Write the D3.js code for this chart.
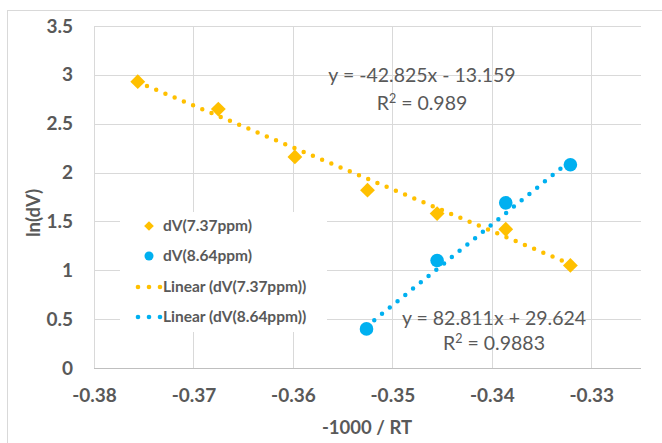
<!DOCTYPE html>
<html><head><meta charset="utf-8">
<script src="https://cdn.jsdelivr.net/npm/d3@7"></script>
<style>
html,body{margin:0;padding:0;background:#fff;}
svg{display:block;}
text{font-family:"Lato","Open Sans",sans-serif;}
</style></head>
<body>
<svg id="chart" width="662" height="443"></svg>
<script>
// ---- data ----
const xTicks = [-0.38, -0.37, -0.36, -0.35, -0.34, -0.33];
const yTicks = [0, 0.5, 1, 1.5, 2, 2.5, 3, 3.5];
const yTickLabels = ["0", "0.5", "1", "1.5", "2", "2.5", "3", "3.5"];
const xTickLabels = ["-0.38", "-0.37", "-0.36", "-0.35", "-0.34", "-0.33"];
const orangeX = [-0.3756, -0.3675, -0.3598, -0.3525, -0.3455, -0.3386, -0.3321];
const orangeY = [2.93, 2.65, 2.16, 1.82, 1.58, 1.42, 1.05];
const blueX = [-0.3526, -0.3455, -0.3386, -0.3321];
const blueY = [0.40, 1.10, 1.69, 2.08];
const seriesNames = ["dV(7.37ppm)", "dV(8.64ppm)", "Linear (dV(7.37ppm))", "Linear (dV(8.64ppm))"];
const fitSlope = [-42.825, 82.811];
const fitIntercept = [-13.159, 29.624];
const eqText = ["y = -42.825x - 13.159", "y = 82.811x + 29.624"];
const r2Text = ["0.989", "0.9883"];
const xTitle = "-1000 / RT";
const yTitle = "ln(dV)";

const ORANGE = "#FFC000", BLUE = "#00B0F0", GRID = "#d9d9d9", TXT = "#595959";

const svg = d3.select("#chart");
const L = 94, R = 641, T = 26, B = 368;
const x = d3.scaleLinear().domain([-0.38, -0.325]).range([L, R]);
const y = d3.scaleLinear().domain([0, 3.5]).range([B, T]);

// outer chart border
svg.append("rect").attr("x", 7.5).attr("y", 10.5).attr("width", 700).attr("height", 500)
  .attr("fill", "#fff").attr("stroke", GRID).attr("stroke-width", 1);

// gridlines
const g = svg.append("g");
g.selectAll(".hg").data(yTicks).join("line")
  .attr("x1", L).attr("x2", R)
  .attr("y1", d => Math.round(y(d)) + 0.5).attr("y2", d => Math.round(y(d)) + 0.5)
  .attr("stroke", GRID).attr("stroke-width", 1);
g.selectAll(".vg").data(xTicks).join("line")
  .attr("y1", T).attr("y2", B)
  .attr("x1", d => Math.round(x(d)) + 0.5).attr("x2", d => Math.round(x(d)) + 0.5)
  .attr("stroke", GRID).attr("stroke-width", 1);
// bottom axis line
svg.append("line").attr("x1", L).attr("x2", R).attr("y1", Math.round(y(0)) + 0.5).attr("y2", Math.round(y(0)) + 0.5)
  .attr("stroke", "#bfbfbf").attr("stroke-width", 1);

// axes via d3 axis (labels only)
const xAxis = d3.axisBottom(x).tickValues(xTicks).tickFormat((d, i) => xTickLabels[i]).tickSize(0).tickPadding(21);
const gx = svg.append("g").attr("transform", `translate(0,${B})`).call(xAxis);
gx.select(".domain").remove();
gx.selectAll("text").attr("fill", TXT).style("font-size", "19px").style("font-weight", "bold").style("font-family", "Lato");

const yAxis = d3.axisLeft(y).tickValues(yTicks).tickFormat((d, i) => yTickLabels[i]).tickSize(0).tickPadding(21);
const gy = svg.append("g").attr("transform", `translate(${L},0)`).call(yAxis);
gy.select(".domain").remove();
gy.selectAll("text").attr("fill", TXT).style("font-size", "19px").style("font-weight", "bold").style("font-family", "Lato");

// axis titles
svg.append("text").attr("x", 367).attr("y", 434).attr("text-anchor", "middle")
  .attr("fill", TXT).style("font-size", "18.5px").style("font-weight", "bold").text(xTitle);
svg.append("text").attr("transform", "translate(40,213) rotate(-90)").attr("text-anchor", "middle")
  .attr("fill", TXT).style("font-size", "18.5px").style("font-weight", "bold").text(yTitle);

// trendlines
const fits = [
  {xs: orangeX, color: ORANGE, k: 0},
  {xs: blueX, color: BLUE, k: 1}
];
fits.forEach(f => {
  const x0 = d3.min(f.xs), x1 = d3.max(f.xs);
  svg.append("line")
    .attr("x1", x(x0)).attr("y1", y(fitSlope[f.k] * x0 + fitIntercept[f.k]))
    .attr("x2", x(x1)).attr("y2", y(fitSlope[f.k] * x1 + fitIntercept[f.k]))
    .attr("stroke", f.color).attr("stroke-width", 4.5).attr("stroke-linecap", "round")
    .attr("stroke-dasharray", "0 10");
});

// markers
const diamond = d3.symbol().type(d3.symbolDiamond2).size(140);
svg.append("g").selectAll("path").data(orangeX.map((v, i) => [v, orangeY[i]])).join("path")
  .attr("d", diamond).attr("transform", d => `translate(${x(d[0])},${y(d[1])})`)
  .attr("fill", ORANGE);
svg.append("g").selectAll("circle").data(blueX.map((v, i) => [v, blueY[i]])).join("circle")
  .attr("cx", d => x(d[0])).attr("cy", d => y(d[1])).attr("r", 6.8)
  .attr("fill", BLUE);

// equations
const eqPos = [[422, 82, 110], [494, 325, 350]];
[0, 1].forEach(k => {
  svg.append("text").attr("x", eqPos[k][0]).attr("y", eqPos[k][1]).attr("text-anchor", "middle")
    .attr("fill", TXT).style("font-size", "19.5px").text(eqText[k]);
  const t = svg.append("text").attr("x", eqPos[k][0]).attr("y", eqPos[k][2]).attr("text-anchor", "middle")
    .attr("fill", TXT).style("font-size", "19.5px");
  t.append("tspan").text("R");
  t.append("tspan").attr("dy", -7).style("font-size", "12.5px").text("2");
  t.append("tspan").attr("dy", 7).text(" = " + r2Text[k]);
});

// legend
const lg = svg.append("g");
lg.append("rect").attr("x", 120).attr("y", 212).attr("width", 207).attr("height", 120).attr("fill", "#fff");
const rowsY = [226, 256, 287, 317];
const colors = [ORANGE, BLUE, ORANGE, BLUE];
rowsY.forEach((ry, i) => {
  if (i === 0) lg.append("path").attr("d", d3.symbol().type(d3.symbolDiamond2).size(60)).attr("transform", `translate(149,${ry})`).attr("fill", ORANGE);
  else if (i === 1) lg.append("circle").attr("cx", 149).attr("cy", ry).attr("r", 4.5).attr("fill", BLUE);
  else lg.selectAll(null).data([138, 149, 160]).join("circle").attr("cx", d => d).attr("cy", ry).attr("r", 2.3).attr("fill", colors[i]);
  lg.append("text").attr("x", 163).attr("y", ry + 5).attr("fill", TXT)
    .style("font-size", "15.5px").style("font-weight", "bold").text(seriesNames[i]);
});
</script>
</body></html>
